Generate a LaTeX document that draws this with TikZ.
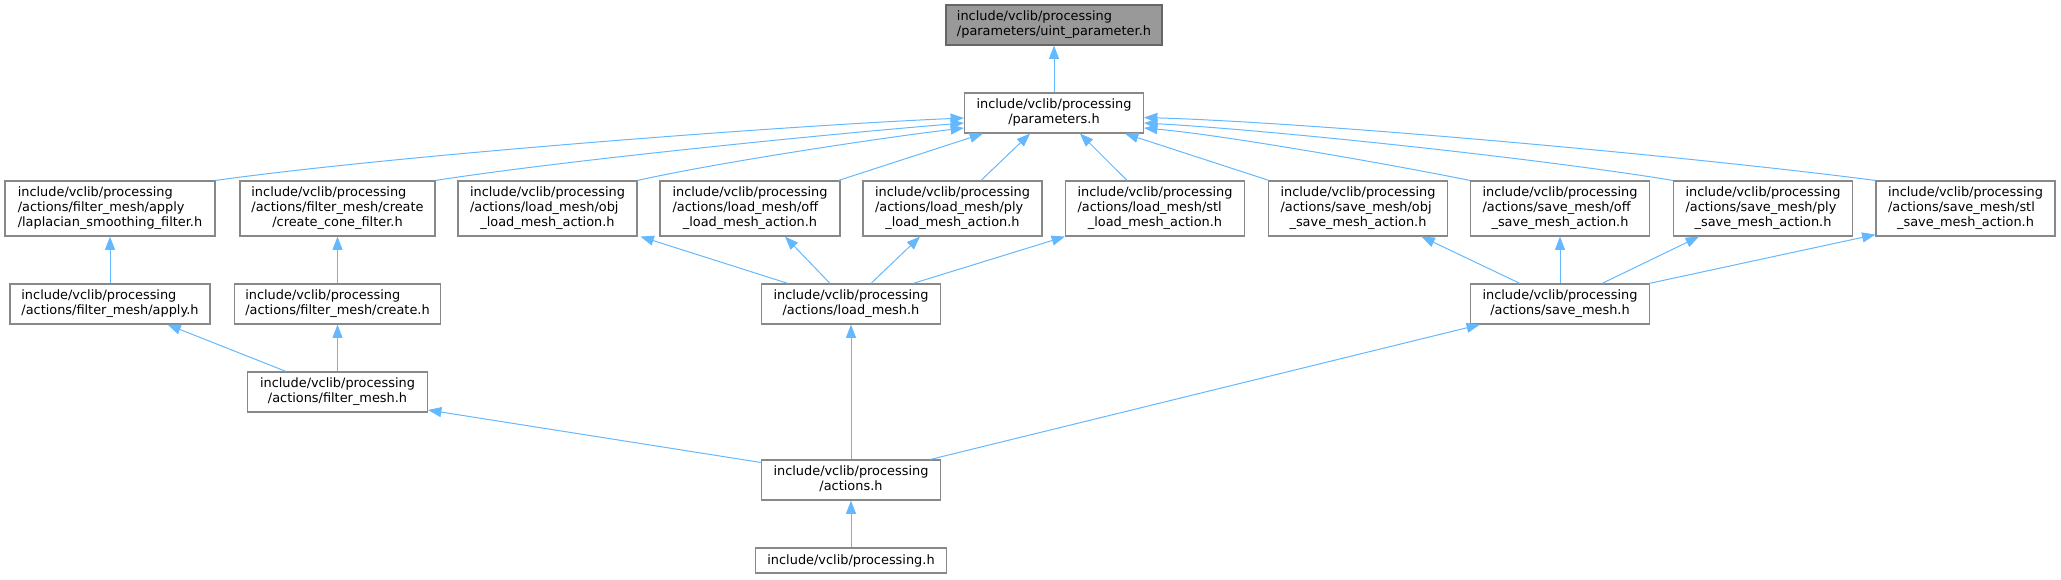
\documentclass[tikz,border=0pt]{standalone}
\usepackage{fontspec}
\setmainfont{DejaVu Sans}
\usetikzlibrary{arrows.meta,calc}
\definecolor{edgeblue}{HTML}{63B8FF}
\definecolor{nodeborder}{HTML}{888888}
\definecolor{topfill}{HTML}{999999}
\definecolor{topborder}{HTML}{666666}
\newcommand\lblc[3]{\begin{tabular}{@{}l@{}}#1\\#2\\\multicolumn{1}{@{}c@{}}{#3}\end{tabular}}
\newcommand\lblb[2]{\begin{tabular}{@{}l@{}}#1\\\multicolumn{1}{@{}c@{}}{#2}\end{tabular}}
\renewcommand\arraystretch{1}
\tikzset{
  fbox/.style={draw=nodeborder, line width=0.85pt, fill=white, inner sep=0pt,
    font=\fontsize{9.67pt}{11pt}\selectfont},
  sz/.style 2 args={minimum width=#1*0.75pt, minimum height=#2*0.75pt},
  dep/.style={draw=edgeblue, line width=0.75pt, -{Triangle[length=10pt,width=7.5pt]}},
}
\begin{document}
\begin{tikzpicture}[x=0.75pt,y=-0.75pt]
\useasboundingbox (0,0) rectangle (2061,579);
% nodes
\node[fbox, sz={216}{40}, fill=topfill, draw=topborder] (top) at (1054,25)
  {\lblb{include/vclib/processing}{/parameters/uint\_parameter.h}};
\node[fbox, sz={179}{40}] (P) at (1054,113)
  {\lblb{include/vclib/processing}{/parameters.h}};
\node[fbox, sz={210}{55}] (lap) at (110,208.5)
  {\lblc{include/vclib/processing}{/actions/filter\_mesh/apply}{/laplacian\_smoothing\_filter.h}};
\node[fbox, sz={195}{55}] (cone) at (337.5,208.5)
  {\lblc{include/vclib/processing}{/actions/filter\_mesh/create}{/create\_cone\_filter.h}};
\node[fbox, sz={179}{55}] (objL) at (547.5,208.5)
  {\lblc{include/vclib/processing}{/actions/load\_mesh/obj}{\_load\_mesh\_action.h}};
\node[fbox, sz={180}{55}] (offL) at (750,208.5)
  {\lblc{include/vclib/processing}{/actions/load\_mesh/off}{\_load\_mesh\_action.h}};
\node[fbox, sz={179}{55}] (plyL) at (952.5,208.5)
  {\lblc{include/vclib/processing}{/actions/load\_mesh/ply}{\_load\_mesh\_action.h}};
\node[fbox, sz={179}{55}] (stlL) at (1155,208.5)
  {\lblc{include/vclib/processing}{/actions/load\_mesh/stl}{\_load\_mesh\_action.h}};
\node[fbox, sz={179}{55}] (objS) at (1358,208.5)
  {\lblc{include/vclib/processing}{/actions/save\_mesh/obj}{\_save\_mesh\_action.h}};
\node[fbox, sz={179}{55}] (offS) at (1560,208.5)
  {\lblc{include/vclib/processing}{/actions/save\_mesh/off}{\_save\_mesh\_action.h}};
\node[fbox, sz={179}{55}] (plyS) at (1763,208.5)
  {\lblc{include/vclib/processing}{/actions/save\_mesh/ply}{\_save\_mesh\_action.h}};
\node[fbox, sz={179}{55}] (stlS) at (1965.5,208.5)
  {\lblc{include/vclib/processing}{/actions/save\_mesh/stl}{\_save\_mesh\_action.h}};
\node[fbox, sz={200}{40}] (apply) at (110,304)
  {\lblb{include/vclib/processing}{/actions/filter\_mesh/apply.h}};
\node[fbox, sz={206}{40}] (create) at (337.5,304)
  {\lblb{include/vclib/processing}{/actions/filter\_mesh/create.h}};
\node[fbox, sz={179.5}{40}] (loadm) at (851,304)
  {\lblb{include/vclib/processing}{/actions/load\_mesh.h}};
\node[fbox, sz={179}{40}] (savem) at (1560,304)
  {\lblb{include/vclib/processing}{/actions/save\_mesh.h}};
\node[fbox, sz={180}{40}] (filter) at (337.5,392)
  {\lblb{include/vclib/processing}{/actions/filter\_mesh.h}};
\node[fbox, sz={179.5}{40}] (actions) at (851,480)
  {\lblb{include/vclib/processing}{/actions.h}};
\node[fbox, sz={191}{25}] (proc) at (851,560.5)
  {include/vclib/processing.h};
% edges
\draw[dep] (P.north) -- (top.south);
\draw[dep] (lap.north east) .. controls ($(lap.north east)+(180,-25.2)$) and ($(P.west)+(-180,12.7)$) .. ($(P.west)+(0,5)$);
\draw[dep] (cone.north east) .. controls ($(cone.north east)+(130,-20.3)$) and ($(P.west)+(-130,20.5)$) .. ($(P.west)+(0,10)$);
\draw[dep] (objL.north east) .. controls ($(objL.north east)+(80,-18)$) and ($(P.west)+(-80,24.4)$) .. ($(P.west)+(0,15)$);
\draw[dep] ($(offL.north east)+(-2,0)$) -- ($(P.south)+(-71,0)$);
\draw[dep] ($(plyL.north)+(28.5,0)$) -- ($(P.south)+(-24,0)$);
\draw[dep] ($(stlL.north)+(-28,0)$) -- ($(P.south)+(26,0)$);
\draw[dep] ($(objS.north west)+(1,0)$) -- ($(P.south)+(71,0)$);
\draw[dep] (offS.north west) .. controls ($(offS.north west)+(-80,-16.2)$) and ($(P.east)+(80,22.1)$) .. ($(P.east)+(0,15)$);
\draw[dep] (plyS.north west) .. controls ($(plyS.north west)+(-130,-21.5)$) and ($(P.east)+(130,17.2)$) .. ($(P.east)+(0,10)$);
\draw[dep] (stlS.north west) .. controls ($(stlS.north west)+(-180,-23.4)$) and ($(P.east)+(180,9.9)$) .. ($(P.east)+(0,4.5)$);
\draw[dep] (apply.north) -- (lap.south);
\draw[dep] (create.north) -- (cone.south);
\draw[dep] ($(loadm.north)+(-63,0)$) -- ($(objL.south)+(93,0)$);
\draw[dep] ($(loadm.north)+(-21,0)$) -- ($(offL.south)+(35,0)$);
\draw[dep] ($(loadm.north)+(20,0)$) -- ($(plyL.south)+(-32.5,0)$);
\draw[dep] ($(loadm.north)+(62,0)$) -- (stlL.south west);
\draw[dep] ($(savem.north)+(-40,0)$) -- ($(objS.south)+(63.5,0)$);
\draw[dep] (savem.north) -- (offS.south);
\draw[dep] ($(savem.north)+(42,0)$) -- ($(plyS.south)+(-64,0)$);
\draw[dep] ($(savem.north east)+(-1,0)$) -- ($(stlS.south west)+(0,-2)$);
\draw[dep] ($(filter.north)+(-51.5,0)$) -- ($(apply.south)+(57.5,0)$);
\draw[dep] (filter.north) -- (create.south);
\draw[dep] ($(actions.north west)+(0,3)$) -- ($(filter.east)+(0,18)$);
\draw[dep] (actions.north) -- (loadm.south);
\draw[dep] ($(actions.north east)+(-11,0)$) -- ($(savem.south west)+(10,0)$);
\draw[dep] (proc.north) -- (actions.south);
\end{tikzpicture}
\end{document}
